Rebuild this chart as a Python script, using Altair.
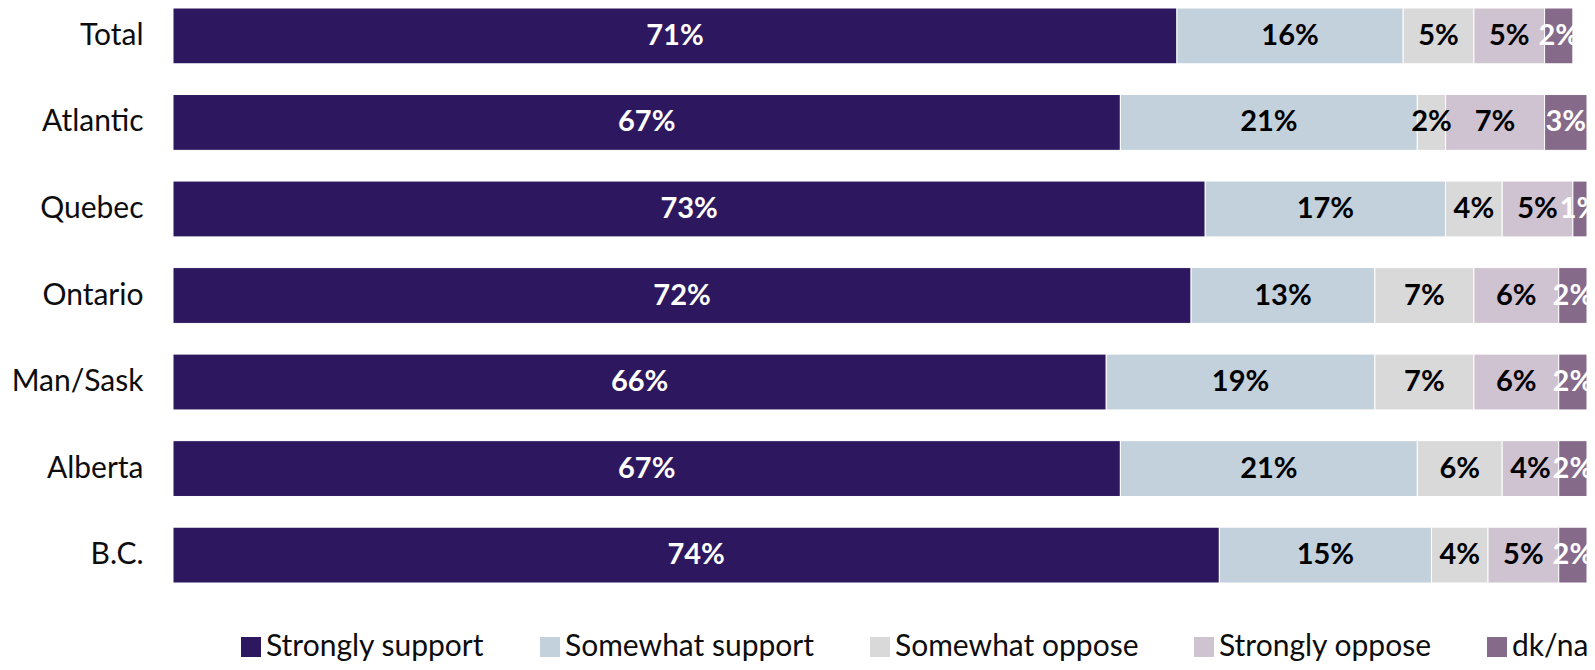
import altair as alt
import pandas as pd

regions = ["Total", "Atlantic", "Quebec", "Ontario", "Man/Sask", "Alberta", "B.C."]
categories = ["Strongly support", "Somewhat support", "Somewhat oppose", "Strongly oppose", "dk/na"]
colors = ["#2D175E", "#C3D1DC", "#D9D9D9", "#D0C3D1", "#866A8A"]

strongly_support = [71, 67, 73, 72, 66, 67, 74]
somewhat_support = [16, 21, 17, 13, 19, 21, 15]
somewhat_oppose = [5, 2, 4, 7, 7, 6, 4]
strongly_oppose = [5, 7, 5, 6, 6, 4, 5]
dk_na = [2, 3, 1, 2, 2, 2, 2]

series = [strongly_support, somewhat_support, somewhat_oppose, strongly_oppose, dk_na]

rows = []
for ci, (cat, vals) in enumerate(zip(categories, series)):
    for r, v in zip(regions, vals):
        rows.append({"region": r, "category": cat, "order": ci, "value": v, "label": f"{v}%"})
df = pd.DataFrame(rows)

FONT = "Lato"

base = alt.Chart(df).transform_stack(
    stack="value", groupby=["region"], as_=["x0", "x1"],
    sort=[alt.SortField("order", order="ascending")]
).transform_calculate(mid="(datum.x0 + datum.x1) / 2")

y_enc = alt.Y(
    "region:N", sort=regions, title=None,
    scale=alt.Scale(paddingInner=0.355, paddingOuter=0),
    axis=alt.Axis(ticks=False, domain=False, labelFont=FONT, labelFontSize=30,
                  labelColor="#0d0d0d", labelPadding=30),
)

bars = base.mark_bar(stroke="white", strokeWidth=1).encode(
    y=y_enc,
    x=alt.X("x0:Q", scale=alt.Scale(domain=[0, 100], nice=False), axis=None),
    x2="x1:Q",
    color=alt.Color(
        "category:N",
        scale=alt.Scale(domain=categories, range=colors),
        sort=categories,
        legend=alt.Legend(
            title=None, orient="none", direction="horizontal",
            legendX=63, legendY=624, padding=0,
            symbolType="square", symbolSize=400, symbolStrokeWidth=0,
            labelFont=FONT, labelFontSize=30, labelColor="#0d0d0d",
            labelOffset=0, columnPadding=50, labelLimit=400,
        ),
    ),
)

texts = base.mark_text(font=FONT, fontSize=29, fontWeight="bold", baseline="middle", align="center").encode(
    y=alt.Y("region:N", sort=regions),
    x=alt.X("mid:Q"),
    text="label:N",
    color=alt.condition(
        "datum.category === 'Strongly support' || datum.category === 'dk/na'",
        alt.value("white"), alt.value("black"),
    ),
)

chart = alt.layer(bars, texts).properties(
    width=1414, height=575,
    autosize=alt.AutoSizeParams(type="none"),
    padding={"left": 165, "right": 0, "top": 0, "bottom": 79},
).configure_view(stroke=None)

chart.save("out.html", embed_options={"renderer": "svg", "actions": False})
